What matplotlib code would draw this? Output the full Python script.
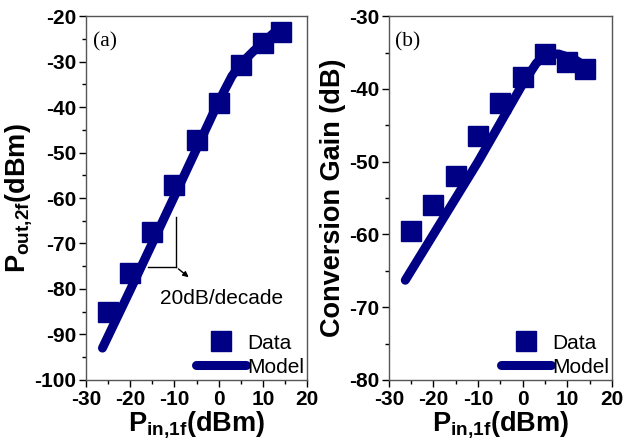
import numpy as np
import matplotlib
matplotlib.use("Agg")
import matplotlib.pyplot as plt
from matplotlib.ticker import MultipleLocator

plt.rcParams['font.family'] = ['Liberation Sans', 'DejaVu Sans']
plt.rcParams['axes.unicode_minus'] = False
plt.rcParams['mathtext.fontset'] = 'custom'
plt.rcParams['mathtext.rm'] = 'Liberation Sans'
plt.rcParams['mathtext.bf'] = 'Liberation Sans:bold'

# measured data
pin_data = [-25, -20, -15, -10, -5, 0, 5, 10, 14]
pout_data = [-85.0, -76.6, -67.4, -57.1, -47.3, -39.0, -30.8, -26.0, -23.4]
gain_data = [-59.6, -56.0, -52.0, -46.5, -42.0, -38.3, -35.2, -36.3, -37.2]

# model curves
pin_model = [-26.3, -20, -10, 0, 3, 5, 8, 10, 12, 14]
pout_model = [-93.0, -80.2, -59.6, -38.8, -33.2, -30.5, -27.6, -26.0, -24.1, -22.5]
gain_model = [-66.3, -60.0, -50.0, -39.3, -36.5, -35.3, -35.2, -35.6, -36.1, -36.9]

navy = '#000085'

fig = plt.figure(figsize=(6.24, 4.48), dpi=100)
ax1 = fig.add_axes([0.138, 0.152, 0.354, 0.812])
ax2 = fig.add_axes([0.623, 0.152, 0.358, 0.812])


def style_axis(ax, ylim, ymajor, yminor):
    ax.set_xlim(-30, 20)
    ax.set_ylim(*ylim)
    ax.xaxis.set_major_locator(MultipleLocator(10))
    ax.xaxis.set_minor_locator(MultipleLocator(5))
    ax.yaxis.set_major_locator(MultipleLocator(ymajor))
    ax.yaxis.set_minor_locator(MultipleLocator(yminor))
    ax.tick_params(which='major', direction='out', length=5, width=1,
                   labelsize=15, top=False, right=False, pad=2)
    ax.tick_params(which='minor', direction='out', length=3, width=1,
                   top=False, right=False)
    for lab in ax.get_xticklabels() + ax.get_yticklabels():
        lab.set_fontweight('bold')
    for sp in ax.spines.values():
        sp.set_color('#555555')
        sp.set_linewidth(1.0)
    ax.set_xlabel(r'$\mathbf{P_{in{,}1f}}$' + '(dBm)', fontsize=19.5,
                  fontweight='bold', labelpad=0)


def add_legend(ax):
    ax.legend(loc='lower right', frameon=False, fontsize=15, handlelength=2.4,
              handletextpad=0.05, borderaxespad=0.0, borderpad=0.15,
              labelspacing=0.25)


# (a)
ax1.plot(pin_data, pout_data, 's', color=navy, markersize=14, label='Data', zorder=2)
ax1.plot(pin_model, pout_model, '-', color=navy, lw=6.5, solid_capstyle='round',
         label='Model', zorder=3)
style_axis(ax1, (-100, -20), 10, 5)
ax1.set_ylabel(r'$\mathbf{P_{out{,}2f}}$' + '(dBm)', fontsize=19.5,
               fontweight='bold', labelpad=0)
ax1.text(0.03, 0.955, '(a)', transform=ax1.transAxes, fontsize=15.5,
         family='Liberation Serif', va='top', ha='left')
# slope annotation
ax1.plot([-9.6, -9.6], [-64.2, -75.2], color='black', lw=1)
ax1.plot([-16.0, -9.6], [-75.2, -75.2], color='black', lw=1)
ax1.annotate('', xy=(-6.3, -77.8), xytext=(-9.6, -75.2),
             arrowprops=dict(arrowstyle='-|>', color='black', lw=1,
                             mutation_scale=8))
ax1.text(0.6, -82, '20dB/decade', fontsize=15, ha='center', va='center')
add_legend(ax1)

# (b)
ax2.plot(pin_data, gain_data, 's', color=navy, markersize=14, label='Data', zorder=2)
ax2.plot(pin_model, gain_model, '-', color=navy, lw=6.5, solid_capstyle='round',
         label='Model', zorder=3)
style_axis(ax2, (-80, -30), 10, 5)
ax2.set_ylabel('Conversion Gain (dB)', fontsize=19.5, fontweight='bold', labelpad=2)
ax2.text(0.03, 0.955, '(b)', transform=ax2.transAxes, fontsize=15.5,
         family='Liberation Serif', va='top', ha='left')
add_legend(ax2)

fig.savefig('out.png', dpi=100)
